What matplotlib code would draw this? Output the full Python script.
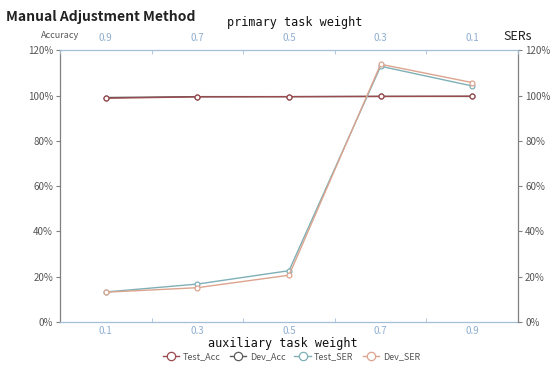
import matplotlib
matplotlib.use("Agg")
import matplotlib.pyplot as plt
import numpy as np
from matplotlib.ticker import FixedLocator, FuncFormatter
from matplotlib.lines import Line2D

aux_weights = ["0.1", "0.3", "0.5", "0.7", "0.9"]
primary_weights = ["0.9", "0.7", "0.5", "0.3", "0.1"]

test_acc = [98.8, 99.4, 99.5, 99.6, 99.7]
dev_acc = [99.1, 99.5, 99.5, 99.6, 99.6]
test_ser = [13.3, 16.8, 22.7, 112.9, 104.2]
dev_ser = [13.2, 15.2, 20.7, 113.8, 105.7]

c_test_acc = "#9b4a4e"
c_dev_acc = "#5a5a5a"
c_test_ser = "#7fb0b6"
c_dev_ser = "#dca48e"
c_xaxis = "#a3bfd8"
c_xlabel = "#8eaed0"
c_yaxis = "#808080"
c_text = "#555555"

plt.rcParams["font.family"] = ["Noto Sans CJK SC", "DejaVu Sans"]

fig = plt.figure(figsize=(5.5, 3.69), dpi=100)
ax = fig.add_axes([0.109, 0.127, 0.833, 0.737])
ax2 = ax.twinx()

x = np.arange(len(aux_weights))
mk = dict(marker="o", ms=3.5, mfc="white", mew=0.9, lw=1.0)
ax.plot(x, dev_acc, color=c_dev_acc, **mk, zorder=3)
ax.plot(x, test_acc, color=c_test_acc, **mk, zorder=4)
ax2.plot(x, test_ser, color=c_test_ser, **mk)
ax2.plot(x, dev_ser, color=c_dev_ser, **mk)

for a in (ax, ax2):
    a.set_xlim(-0.5, len(x) - 0.5)
    a.set_ylim(0, 120)
    a.set_yticks(np.arange(0, 121, 20))
    a.yaxis.set_major_formatter(FuncFormatter(lambda v, p: f"{v:.0f}%"))

# bottom x axis
ax.set_xticks(x)
ax.set_xticklabels(aux_weights)
ax.xaxis.set_minor_locator(FixedLocator(np.arange(-0.5, len(x), 1)))
ax.tick_params(axis="x", which="major", length=0, labelsize=7, labelcolor=c_xlabel, pad=3)
ax.tick_params(axis="x", which="minor", length=3, direction="in", color=c_xaxis)
ax.tick_params(axis="y", length=3, width=0.8, color=c_yaxis, labelsize=7, labelcolor=c_text, pad=2)
ax2.tick_params(axis="y", length=3, width=0.8, color=c_yaxis, labelsize=7, labelcolor=c_text, pad=2)

# top x axis
axt = ax.twiny()
axt.set_xlim(ax.get_xlim())
axt.set_xticks(x)
axt.set_xticklabels(primary_weights)
axt.xaxis.set_minor_locator(FixedLocator(np.arange(-0.5, len(x), 1)))
axt.tick_params(axis="x", which="major", length=0, labelsize=7, labelcolor=c_xlabel, pad=5)
axt.tick_params(axis="x", which="minor", length=3, direction="in", color=c_xaxis)

for a in (ax, ax2, axt):
    for s in a.spines.values():
        s.set_visible(False)
ax.spines["left"].set_visible(True)
ax.spines["left"].set_color(c_yaxis)
ax.spines["bottom"].set_visible(True)
ax.spines["bottom"].set_color(c_xaxis)
ax2.spines["right"].set_visible(True)
ax2.spines["right"].set_color(c_yaxis)
axt.spines["top"].set_visible(True)
axt.spines["top"].set_color(c_xaxis)
for a in (ax, ax2, axt):
    for s in a.spines.values():
        s.set_linewidth(0.9)

fig.text(0.01, 0.955, "Manual Adjustment Method", fontsize=10, fontweight="bold",
         color="#222222", va="center", ha="left")
fig.text(0.535, 0.94, "primary task weight", family="DejaVu Sans Mono", fontsize=8.5,
         color="#111111", ha="center", va="center")
fig.text(0.109, 0.905, "Accuracy", fontsize=6.5, color=c_text, ha="center", va="center")
fig.text(0.942, 0.9, "SERs", fontsize=9, color="#222222", ha="center", va="center")
fig.text(0.515, 0.068, "auxiliary task weight", family="DejaVu Sans Mono", fontsize=8.5,
         color="#111111", ha="center", va="center")

handles = [Line2D([], [], color=c, marker="o", ms=6, mfc="white", mew=0.9, lw=1.0)
           for c in (c_test_acc, c_dev_acc, c_test_ser, c_dev_ser)]
fig.legend(handles, ["Test_Acc", "Dev_Acc", "Test_SER", "Dev_SER"], loc="center",
           bbox_to_anchor=(0.53, 0.033), ncol=4, frameon=False, fontsize=6.5,
           handlelength=1.8, handletextpad=0.4, columnspacing=1.0, labelcolor=c_text)

fig.savefig("out.png", dpi=100)
